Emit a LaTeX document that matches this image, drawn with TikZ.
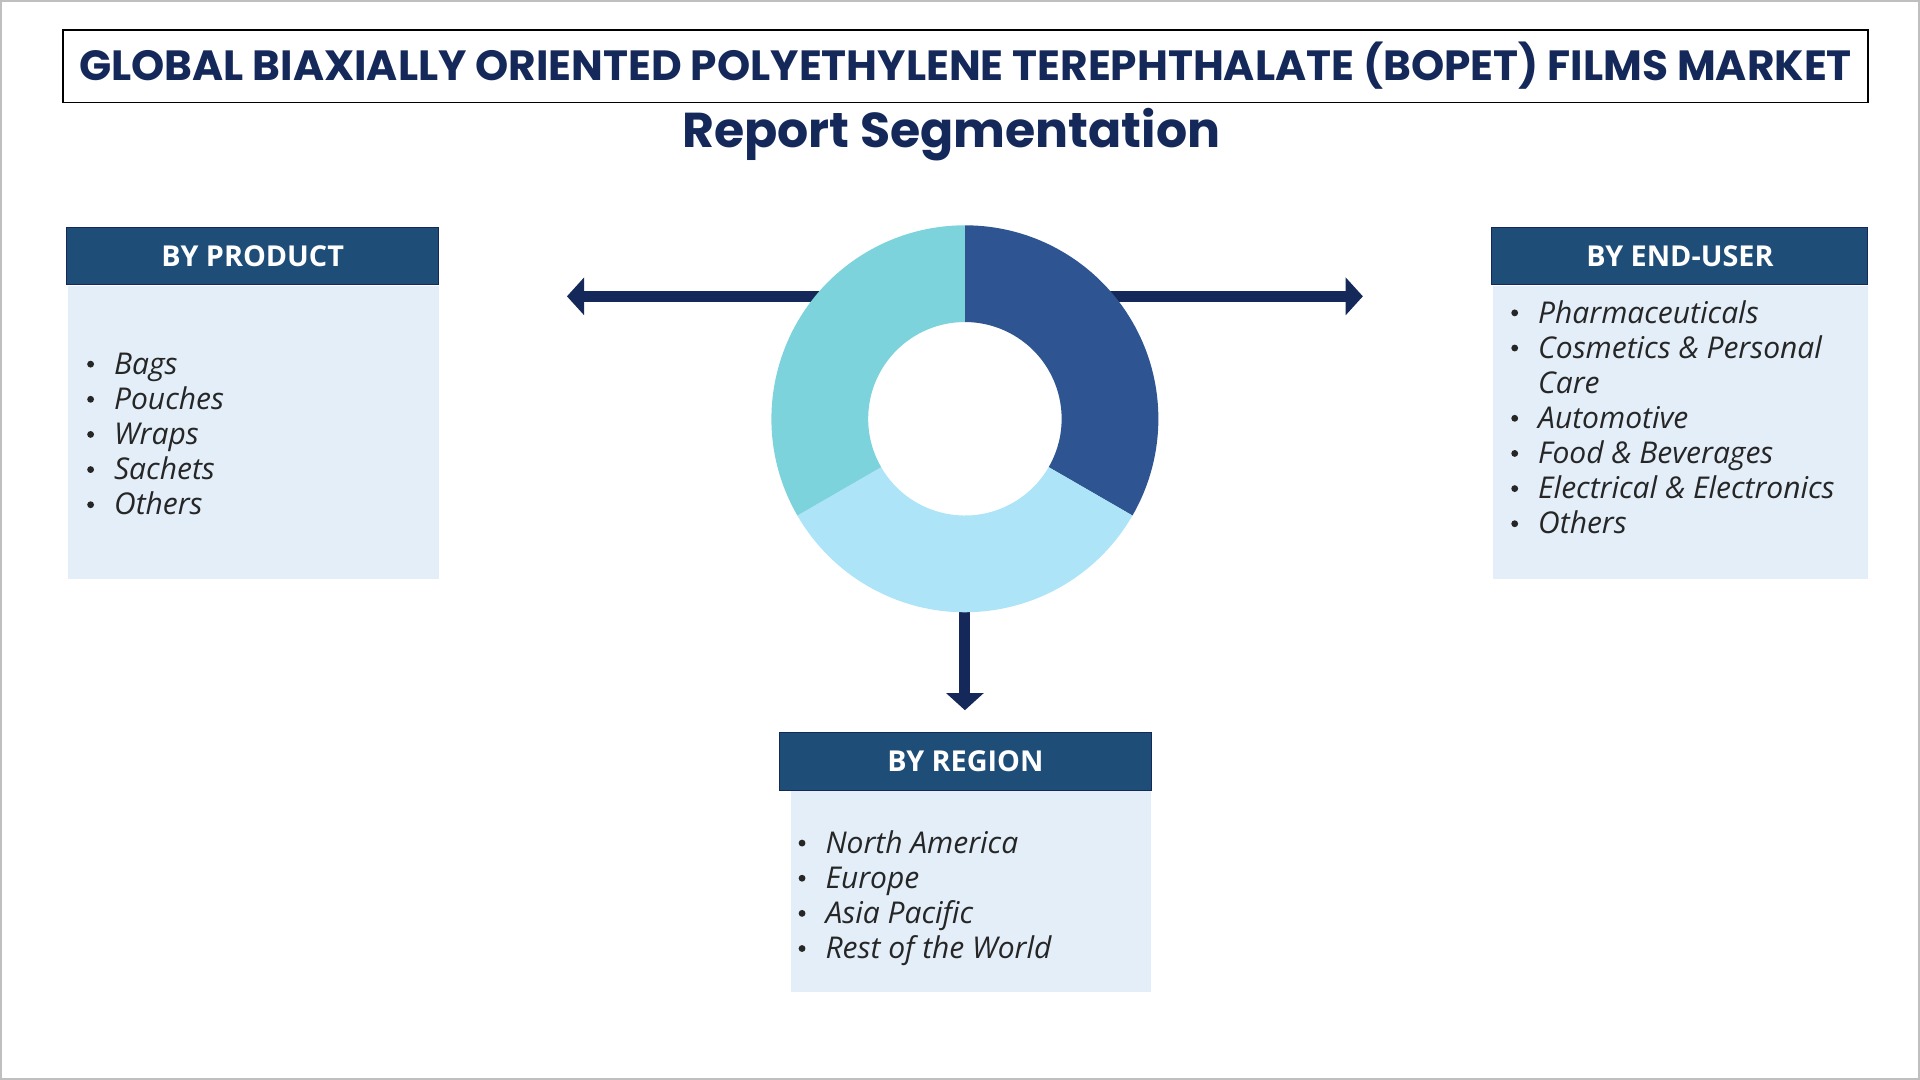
\documentclass[tikz,border=0pt]{standalone}
\usepackage{fontspec}
\setmainfont{Open Sans}
\newfontfamily\titlefont{Poppins}
\usetikzlibrary{arrows.meta}
\definecolor{navy}{HTML}{14285A}
\definecolor{hdr}{HTML}{1E4D78}
\definecolor{bodyc}{HTML}{E3EEF8}
\definecolor{segA}{HTML}{2E5591}
\definecolor{segB}{HTML}{ADE4F8}
\definecolor{segC}{HTML}{7DD3DB}
\newcommand{\itm}{\makebox[24pt][l]{\hspace{2pt}\raisebox{5.5pt}{\tikz\fill[black!85] (0,0) circle (2.8pt);}}}
\tikzset{
 hdrbox/.style={fill=hdr,draw=navy,line width=0.8pt,text=white,font=\fontsize{23.5}{26}\selectfont\bfseries,minimum height=47pt,anchor=north west,inner sep=0pt},
 bodybox/.style={fill=bodyc,draw=none,anchor=north west,inner sep=0pt},
 arr/.style={draw=navy,line width=9pt,-{Triangle[length=14pt,width=30pt]}},
 lst/.style={anchor=north west,align=left,font=\fontsize{24.5}{28.7}\selectfont\itshape,text=black!85,inner sep=0pt}
}
\begin{document}
\begin{tikzpicture}[x=1pt,y=-1pt]
\useasboundingbox (0,0) rectangle (1568,882);
\draw[draw=black!25,line width=1.5pt] (1,1) rectangle (1567,881);
\node[draw=black,line width=1pt,minimum width=1474pt,minimum height=59pt,anchor=north west,inner sep=0pt,font=\titlefont\fontsize{34.5}{38}\selectfont\bfseries,text=navy] (title) at (51,24) {GLOBAL BIAXIALLY ORIENTED POLYETHYLENE TEREPHTHALATE (BOPET) FILMS MARKET};
\node[font=\titlefont\fontsize{40}{44}\selectfont\bfseries,text=navy] (sub) at (777,110) {Report Segmentation};
% arrows
\coordinate (c) at (788,342);
\coordinate (lt) at (463,242);
\coordinate (rt) at (1113,242);
\coordinate (dn) at (788,580);
\draw[arr] (700,242) -- (lt);
\draw[arr] (880,242) -- (rt);
\draw[arr] (788,495) -- (dn);
% donut
\begin{scope}[shift={(c)},y=1pt]
\fill[segA] (90:158) arc[start angle=90,end angle=-30,radius=158] -- (-30:79) arc[start angle=-30,end angle=90,radius=79] -- cycle;
\fill[segB] (-30:158) arc[start angle=-30,end angle=-150,radius=158] -- (-150:79) arc[start angle=-150,end angle=-30,radius=79] -- cycle;
\fill[segC] (-150:158) arc[start angle=-150,end angle=-270,radius=158] -- (90:79) arc[start angle=90,end angle=210,radius=79] -- cycle;
\end{scope}
% product
\node[hdrbox,minimum width=304pt] (ph) at (54,185) {BY PRODUCT};
\node[bodybox,minimum width=303pt,minimum height=240pt] (pb) at (55,233) {};
\node[lst] (pl) at (69,288) {\itm Bags\\\itm Pouches\\\itm Wraps\\\itm Sachets\\\itm Others};
% end user
\node[hdrbox,minimum width=307pt] (eh) at (1218,185) {BY END-USER};
\node[bodybox,minimum width=306pt,minimum height=240pt] (eb) at (1219,233) {};
\node[lst] (el) at (1232,245) {\itm Pharmaceuticals\\\itm Cosmetics \& Personal\\\hspace{24pt}Care\\\itm Automotive\\\itm Food \& Beverages\\\itm Electrical \& Electronics\\\itm Others};
% region
\node[hdrbox,minimum width=304pt] (rh) at (636,598) {BY REGION};
\node[bodybox,minimum width=294pt,minimum height=164pt] (rb) at (646,646) {};
\node[lst] (rl) at (650,678) {\itm North America\\\itm Europe\\\itm Asia Pacific\\\itm Rest of the World};
\end{tikzpicture}
\end{document}
